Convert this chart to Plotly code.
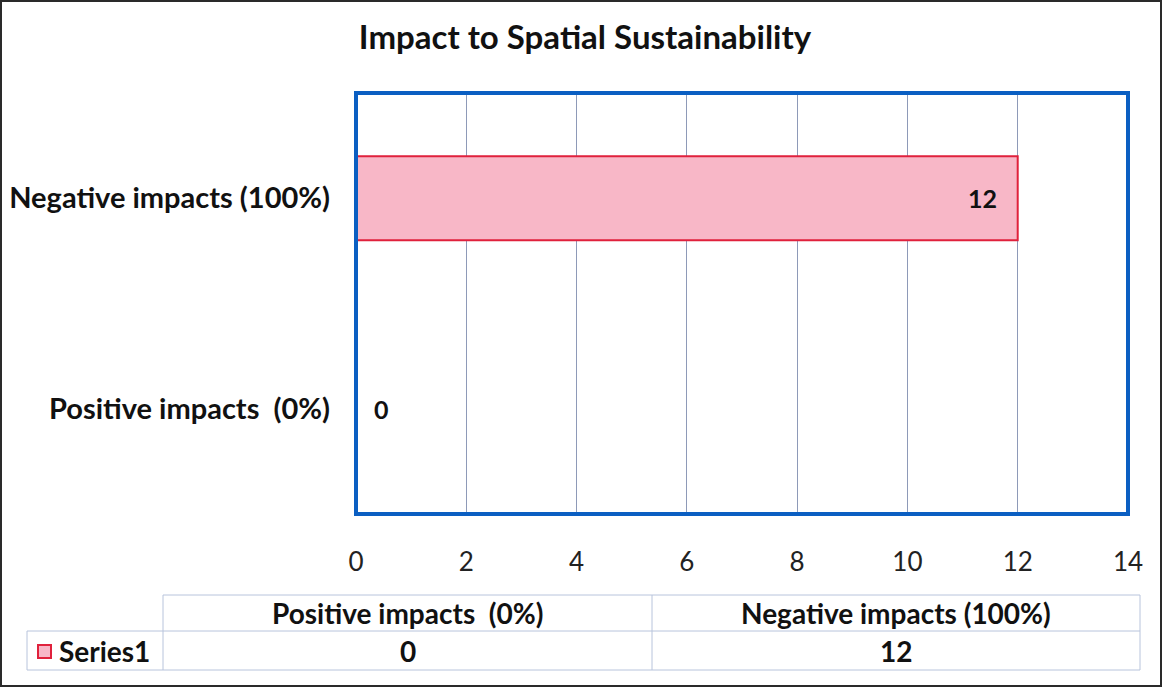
import plotly.graph_objects as go

# Chart data
categories = ["Positive impacts  (0%)", "Negative impacts (100%)"]
series_name = "Series1"
values = [0, 12]
x_ticks = [0, 2, 4, 6, 8, 10, 12, 14]
title = "Impact to Spatial Sustainability"

W, H = 1163, 688
L, R, T, B = 356, 1128, 93, 514  # plot area in pixels

FONT = "Lato"
BAR_FILL = "#f8b7c7"
BAR_LINE = "#e0213c"
FRAME_BLUE = "#0b5fc2"
TABLE_LINE = "#b8c4dc"
TEXT = "#111111"


def px(x):
    return (x - L) / (R - L)


def py(y):
    return (B - y) / (B - T)


fig = go.Figure()
fig.add_trace(go.Bar(
    x=values,
    y=categories,
    orientation="h",
    name=series_name,
    width=0.4,
    marker=dict(color=BAR_FILL, line=dict(color=BAR_LINE, width=2)),
    showlegend=False,
    hoverinfo="x+y",
))

shapes = []
annotations = []

# value labels on the bars
for cat, v in zip(categories, values):
    annotations.append(dict(
        x=v, y=cat, xref="x", yref="y", text=str(v), showarrow=False,
        xanchor="left" if v == 0 else "right", yanchor="middle",
        xshift=16 if v == 0 else -19,
        font=dict(family=FONT, size=25, color=TEXT, weight="bold"),
    ))

# outer frame
shapes.append(dict(type="rect", xref="paper", yref="paper",
                   x0=px(1), x1=px(W - 2), y0=py(1), y1=py(H - 2),
                   line=dict(color="#2a2a2a", width=2), layer="below"))
# plot frame
shapes.append(dict(type="rect", xref="paper", yref="paper", x0=0, x1=1, y0=0, y1=1,
                   line=dict(color=FRAME_BLUE, width=4), layer="above"))

# data table under the axis
tx0, tx1, tx2, tx3 = 27, 163, 652, 1140
ty0, ty1, ty2 = 595, 631, 670
line_t = dict(color=TABLE_LINE, width=1)
for (a, b, c, d) in [
    (tx1, ty0, tx3, ty0), (tx0, ty1, tx3, ty1), (tx0, ty2, tx3, ty2),
    (tx0, ty1, tx0, ty2), (tx1, ty0, tx1, ty2), (tx2, ty0, tx2, ty2), (tx3, ty0, tx3, ty2),
]:
    shapes.append(dict(type="line", xref="paper", yref="paper",
                       x0=px(a), x1=px(c), y0=py(b), y1=py(d), line=line_t))

table_font = dict(family=FONT, size=28, color=TEXT, weight="bold")
col_bounds = [(tx1, tx2), (tx2, tx3)]
for (c0, c1), cat, v in zip(col_bounds, categories, values):
    cx = (c0 + c1) / 2
    annotations.append(dict(xref="paper", yref="paper", x=px(cx), y=py((ty0 + ty1) / 2),
                            xanchor="center", yanchor="middle",
                            text=cat, showarrow=False, font=table_font))
    annotations.append(dict(xref="paper", yref="paper", x=px(cx), y=py((ty1 + ty2) / 2),
                            xanchor="center", yanchor="middle",
                            text=str(v), showarrow=False, font=table_font))

# legend key + series name
shapes.append(dict(type="rect", xref="paper", yref="paper",
                   x0=px(38), x1=px(51), y0=py(645), y1=py(658),
                   fillcolor=BAR_FILL, line=dict(color=BAR_LINE, width=2)))
annotations.append(dict(xref="paper", yref="paper", x=px(57), y=py((ty1 + ty2) / 2),
                        text=series_name, showarrow=False, xanchor="left", yanchor="middle",
                        font=table_font))

fig.update_layout(
    width=W, height=H,
    margin=dict(l=L, r=W - R, t=T, b=H - B),
    paper_bgcolor="white",
    plot_bgcolor="white",
    title=dict(text=title, x=585 / W, xanchor="center", y=1 - 37 / H, yanchor="middle",
               font=dict(family=FONT, size=33, color=TEXT, weight="bold")),
    xaxis=dict(range=[0, 14], tickvals=x_ticks, showgrid=True, gridcolor="#8e9ab8",
               gridwidth=1, zeroline=False, showline=False, ticks="",
               ticklabelstandoff=30, automargin=False,
               tickfont=dict(family=FONT, size=26, color="#222222")),
    yaxis=dict(categoryorder="array", categoryarray=categories, showgrid=False,
               zeroline=False, showline=False, ticks="", ticklabelstandoff=25,
               automargin=False,
               tickfont=dict(family=FONT, size=29, color=TEXT, weight="bold")),
    shapes=shapes,
    annotations=annotations,
    bargap=0.6,
)

fig.write_html("out.html")
